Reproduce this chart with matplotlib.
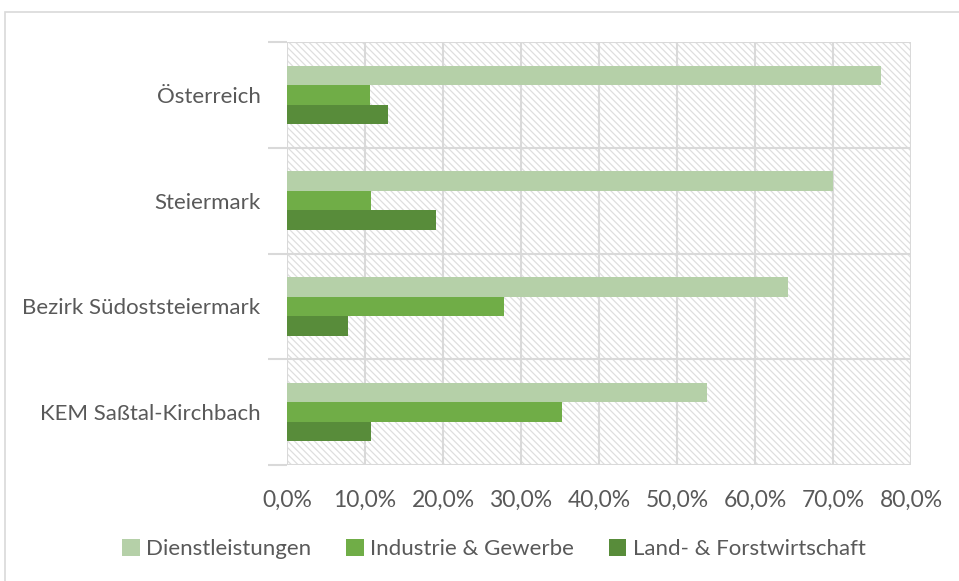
import matplotlib
matplotlib.use("Agg")
import matplotlib.pyplot as plt
from matplotlib.patches import Rectangle
import numpy as np

plt.rcParams['font.family'] = ['Lato', 'DejaVu Sans']
plt.rcParams['hatch.color'] = '#dedede'
plt.rcParams['hatch.linewidth'] = 0.9

categories = ["Österreich", "Steiermark", "Bezirk Südoststeiermark", "KEM Saßtal-Kirchbach"]
series_names = ["Dienstleistungen", "Industrie & Gewerbe", "Land- & Forstwirtschaft"]
dienst = [76.1, 70.0, 64.2, 53.9]
industrie = [10.7, 10.8, 27.8, 35.3]
land = [13.0, 19.1, 7.8, 10.8]
colors = ["#B5D0A8", "#70AD47", "#588C3A"]
xticks = [0, 10, 20, 30, 40, 50, 60, 70, 80]

W, H = 959, 581
fig = plt.figure(figsize=(W/100, H/100), dpi=100)
fig.patch.set_facecolor('white')

# outer chart border
fig.patches.append(Rectangle((5/W, -0.05), 1.1, 1 - 12/H + 0.05, transform=fig.transFigure,
                             fill=False, edgecolor='#d9d9d9', linewidth=1.2))

ax = fig.add_axes([287/W, 1 - 465/H, (911-287)/W, (465-42)/H])
ax.patch.set_facecolor('white')
# hatched background
ax.add_patch(Rectangle((0, 0), 1, 1, transform=ax.transAxes, facecolor='white',
                       hatch='\\\\\\\\\\', edgecolor='#dedede', linewidth=0, zorder=0))

y = np.arange(len(categories))
h = 0.184
for i, (vals, c, name) in enumerate(zip([dienst, industrie, land], colors, series_names)):
    ax.barh(y + (i - 1) * h, vals, height=h, color=c, label=name, zorder=3)

ax.set_xlim(0, 80)
ax.set_ylim(len(categories) - 0.5, -0.5)

# gridlines
for xv in xticks:
    ax.axvline(xv, color='#d9d9d9', linewidth=1.5, zorder=1)
for b in np.arange(-0.5, len(categories), 1.0):
    ax.axhline(b, color='#d9d9d9', linewidth=1.5, zorder=1)

for s in ax.spines.values():
    s.set_visible(False)

ax.set_xticks(xticks)
ax.set_xticklabels([f"{v:.1f}%".replace('.', ',') for v in xticks])
ax.set_yticks(y)
ax.set_yticklabels(categories)
ax.set_yticks(np.arange(-0.5, len(categories), 1.0), minor=True)
ax.tick_params(axis='x', length=0, pad=18, labelsize=16.5, labelcolor='#595959')
ax.tick_params(axis='y', which='major', length=0, pad=19, labelsize=16, labelcolor='#595959')
ax.tick_params(axis='y', which='minor', length=14, width=1.5, color='#d9d9d9', direction='out')

leg = fig.legend(loc='center', bbox_to_anchor=(0.515, 1 - 549/H), ncol=3, frameon=False,
                 fontsize=16, handlelength=0.8, handleheight=0.8, handletextpad=0.3,
                 columnspacing=1.55, labelcolor='#595959')

fig.savefig("out.png", dpi=100)
